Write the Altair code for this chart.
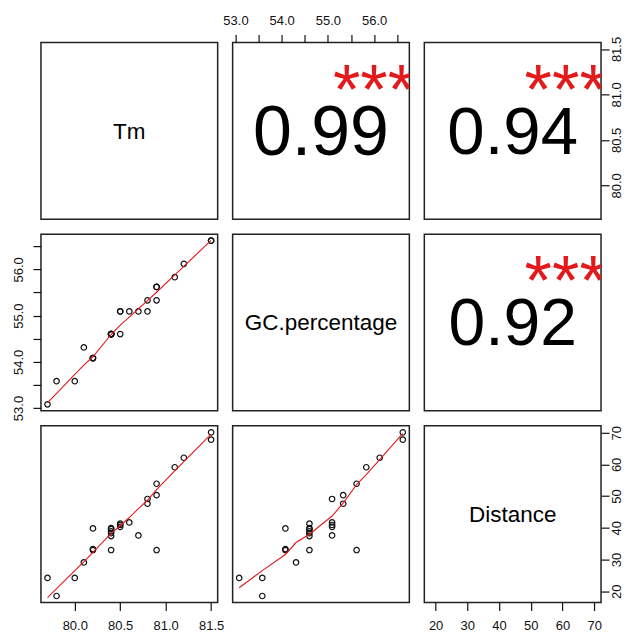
import json
import altair as alt
import pandas as pd

# ---- data ----
tm = [79.7, 79.8, 80.0, 80.1, 80.2, 80.2, 80.2, 80.4, 80.4, 80.4, 80.4, 80.4, 80.4,
      80.5, 80.5, 80.5, 80.6, 80.7, 80.8, 80.8, 80.9, 80.9, 80.9, 81.1, 81.2, 81.5, 81.5]
gc = [53.08, 53.58, 53.58, 54.31, 54.08, 54.08, 54.08, 54.6, 54.6, 54.6, 54.6, 54.6, 54.6,
      54.6, 55.09, 55.09, 55.09, 55.09, 55.09, 55.33, 55.33, 55.62, 55.62, 55.83, 56.12, 56.62, 56.62]
dist = [24.2, 18.5, 24.2, 29.1, 39.8, 33.3, 33.0, 39.9, 39.6, 38.9, 38.3, 37.4, 33.0,
        41.3, 40.9, 40.3, 41.7, 37.6, 49.1, 47.6, 50.3, 53.9, 33.0, 59.1, 62.1, 70.1, 67.8]

fields = ["tm", "gc", "dist"]
var_labels = ["Tm", "GC.percentage", "Distance"]

corr_pairs = [(0, 1), (0, 2), (1, 2)]
corr_labels = ["0.99", "0.94", "0.92"]
corr_values = [0.99, 0.94, 0.92]
corr_stars = ["***", "***", "***"]

tick_values = {
    "tm": [80.0, 80.5, 81.0, 81.5],
    "gc": [53.0, 53.5, 54.0, 54.5, 55.0, 55.5, 56.0, 56.5],
    "dist": [20, 30, 40, 50, 60, 70],
}
tick_labels = {
    "tm": [80.0, 80.5, 81.0, 81.5],
    "gc": [53.0, 54.0, 55.0, 56.0],
    "dist": [20, 30, 40, 50, 60, 70],
}
tick_fmt = {"tm": ".1f", "gc": ".1f", "dist": "d"}

df = pd.DataFrame({"tm": tm, "gc": gc, "dist": dist})
cols = {"tm": tm, "gc": gc, "dist": dist}

FONT = "Liberation Sans"
RED = "#e31a1c"
SIZE = 177
BASE_FS = 70.5
N = 3


def padded(v):
    lo, hi = min(v), max(v)
    d = (hi - lo) * 0.04
    return [lo - d, hi + d]


def frac(v, f):
    lo, hi = padded(v)
    return lo + f * (hi - lo)


def make_axis(var, orient):
    expr = "indexof(%s, datum.value) >= 0 ? format(datum.value, '%s') : ''" % (
        json.dumps(tick_labels[var]), tick_fmt[var])
    common = dict(orient=orient, values=tick_values[var], labelExpr=expr, title=None,
                  domain=False, grid=False, ticks=True, tickSize=8, tickColor="#111",
                  tickWidth=1.2, labelFont=FONT, labelFontSize=13, labelColor="#111",
                  labelOverlap=False, labelFlush=False)
    if orient == "top":
        return alt.Axis(labelAngle=0, labelAlign="center", labelBaseline="bottom",
                        labelPadding=7, **common)
    if orient == "bottom":
        return alt.Axis(labelAngle=0, labelAlign="center", labelBaseline="top",
                        labelPadding=9, **common)
    if orient == "left":
        return alt.Axis(labelAngle=270, labelAlign="center", labelBaseline="bottom",
                        labelPadding=7, **common)
    return alt.Axis(labelAngle=270, labelAlign="center", labelBaseline="top",
                    labelPadding=1, **common)


def panel(i, j):
    xv, yv = fields[j], fields[i]
    xs = alt.Scale(domain=padded(cols[xv]), nice=False, zero=False)
    ys = alt.Scale(domain=padded(cols[yv]), nice=False, zero=False)
    if i == 0 and j % 2 == 1:
        xa = make_axis(xv, "top")
    elif i == N - 1 and j % 2 == 0:
        xa = make_axis(xv, "bottom")
    else:
        xa = None
    if j == 0 and i % 2 == 1:
        ya = make_axis(yv, "left")
    elif j == N - 1 and i % 2 == 0:
        ya = make_axis(yv, "right")
    else:
        ya = None

    def enc(xf, yf):
        return dict(x=alt.X(f"{xf}:Q", scale=xs, axis=xa),
                    y=alt.Y(f"{yf}:Q", scale=ys, axis=ya))

    if i > j:
        base = alt.Chart(df)
        pts = base.mark_point(shape="circle", filled=False, size=30, color="#111",
                              strokeWidth=1.2, opacity=1).encode(**enc(xv, yv))
        line = base.transform_loess(xv, yv, bandwidth=0.67).mark_line(
            color=RED, strokeWidth=1.1).encode(**enc(xv, yv))
        ch = alt.layer(pts, line)
    elif i == j:
        tdf = pd.DataFrame({"x": [frac(cols[xv], 0.5)], "y": [frac(cols[yv], 0.5)],
                            "label": [var_labels[i]]})
        ch = alt.Chart(tdf).mark_text(font=FONT, fontSize=22.5, align="center",
                                      baseline="middle", dy=1, color="black").encode(
            text="label:N", **enc("x", "y"))
    else:
        k = corr_pairs.index((i, j))
        r = corr_values[k]
        tdf = pd.DataFrame({"x": [frac(cols[xv], 0.5)], "y": [frac(cols[yv], 0.5)],
                            "label": [corr_labels[k]]})
        sdf = pd.DataFrame({"x": [frac(cols[xv], 0.8)], "y": [frac(cols[yv], 0.8)],
                            "label": [corr_stars[k]]})
        num = alt.Chart(tdf).mark_text(font=FONT, fontSize=BASE_FS * (abs(r) + 0.3) / 1.3,
                                       align="center", baseline="middle", dy=3,
                                       color="black").encode(text="label:N", **enc("x", "y"))
        st = alt.Chart(sdf).mark_text(font=FONT, fontSize=BASE_FS, align="center",
                                      baseline="middle", dy=15, color=RED,
                                      clip=True).encode(text="label:N", **enc("x", "y"))
        ch = alt.layer(num, st)
    return ch.properties(width=SIZE, height=SIZE)


panels = [panel(i, j) for i in range(N) for j in range(N)]

chart = alt.concat(*panels, columns=3, spacing=15, bounds="flush").properties(
    padding={"left": 4, "top": 5, "right": 0, "bottom": 0}
).configure_view(stroke="#222", strokeWidth=1.5)

chart.save("out.html", embed_options={"renderer": "svg", "actions": False})
